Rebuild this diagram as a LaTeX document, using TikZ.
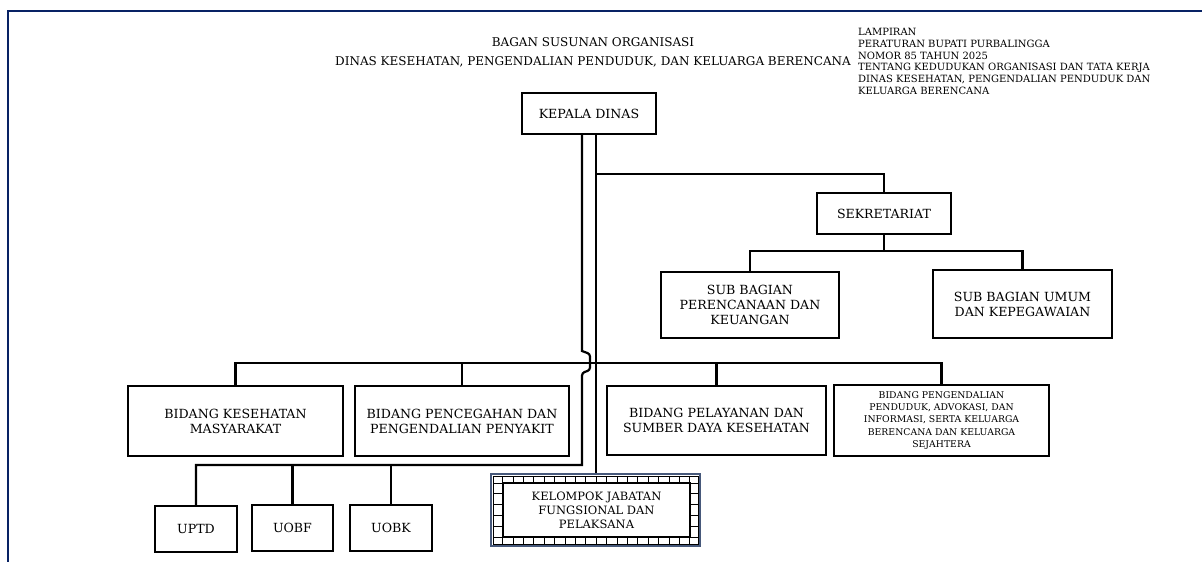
\documentclass[tikz,border=0pt]{standalone}
\usepackage{fontspec}
\setmainfont{DejaVu Serif}
\usepackage{tikz}
\definecolor{framenavy}{RGB}{8,34,100}
\definecolor{gridslate}{RGB}{70,88,122}
\tikzstyle{unit}=[rectangle,draw=black,line width=2.2pt,inner sep=0mm,align=center,font=\fontsize{12.6}{15}\selectfont]
\tikzstyle{smalltext}=[font=\fontsize{9.3}{12.3}\selectfont]
\tikzstyle{link}=[line width=2.2pt]
\tikzstyle{tick}=[line width=1pt]
\tikzset{every picture/.style={
    line join=miter
  }
}

\begin{document}
\begin{tikzpicture}[x=1pt,y=-1pt]
      \useasboundingbox (0,0) rectangle (1202,562);
      \draw[framenavy, line width=2.2pt] (8,562) -- (8,11) -- (1202,11);
      % judul
      \node[align=center, font=\fontsize{12}{19}\selectfont] at (593,52.5) (judul) {BAGAN SUSUNAN ORGANISASI\\DINAS KESEHATAN, PENGENDALIAN PENDUDUK, DAN KELUARGA BERENCANA};
      \node[anchor=north west, align=left, inner sep=0pt, font=\fontsize{10}{11.8}\selectfont] at (858,28) (lampiran) {LAMPIRAN\\PERATURAN BUPATI PURBALINGGA\\NOMOR 85 TAHUN 2025\\TENTANG KEDUDUKAN ORGANISASI DAN TATA KERJA\\DINAS KESEHATAN, PENGENDALIAN PENDUDUK DAN\\KELUARGA BERENCANA};
      % kotak
      \node[unit, minimum width=134pt, minimum height=41pt] at (589,113.5) (kepala) {KEPALA DINAS};
      \node[unit, minimum width=134pt, minimum height=41pt] at (884,213.5) (sekretariat) {SEKRETARIAT};
      \node[unit, minimum width=178pt, minimum height=66pt] at (750,305) (sbpk) {SUB BAGIAN\\PERENCANAAN DAN\\KEUANGAN};
      \node[unit, minimum width=179pt, minimum height=68pt] at (1022.5,304) (sbum) {SUB BAGIAN UMUM\\DAN KEPEGAWAIAN};
      \node[unit, minimum width=215pt, minimum height=70pt] at (235.5,421) (bkm) {BIDANG KESEHATAN\\MASYARAKAT};
      \node[unit, minimum width=214pt, minimum height=70pt] at (462,421) (bpp) {BIDANG PENCEGAHAN DAN\\PENGENDALIAN PENYAKIT};
      \node[unit, minimum width=219pt, minimum height=69pt] at (716.5,420.5) (bpsdk) {BIDANG PELAYANAN DAN\\SUMBER DAYA KESEHATAN};
      \node[unit, smalltext, minimum width=215pt, minimum height=71pt] at (941.5,420.5) (bpa) {BIDANG PENGENDALIAN\\PENDUDUK, ADVOKASI, DAN\\INFORMASI, SERTA KELUARGA\\BERENCANA DAN KELUARGA\\SEJAHTERA};
      \node[unit, minimum width=82pt, minimum height=46pt] at (196,529) (uptd) {UPTD};
      \node[unit, minimum width=81pt, minimum height=46pt] at (292.5,528) (uobf) {UOBF};
      \node[unit, minimum width=82pt, minimum height=46pt] at (391,528) (uobk) {UOBK};
      % kelompok jabatan fungsional
      \node[draw=gridslate, line width=1.3pt, minimum width=209pt, minimum height=72pt] at (595.5,510) (jfframe) {};
      \draw[tick] (493,476) rectangle (698,544);
      \foreach \i in {0,...,18} {
        \draw[tick] ({502.7+\i*10.4},476) -- ++(0,7);
        \draw[tick] ({502.7+\i*10.4},537) -- ++(0,7);
      }
      \foreach \j in {0,...,5} {
        \draw[tick] (493,{483+\j*10.8}) -- ++(10,0);
        \draw[tick] (690,{483+\j*10.8}) -- ++(8,0);
      }
      \node[unit, font=\fontsize{11.5}{14}\selectfont, minimum width=187pt, minimum height=54pt] at (596.5,510) (jf) {KELOMPOK JABATAN\\FUNGSIONAL DAN\\PELAKSANA};
      % garis
      \coordinate (trunkR) at ([xshift=7pt]kepala.south);
      \coordinate (trunkL) at ([xshift=-7pt]kepala.south);
      \draw[link] (trunkR) -- (trunkR |- jfframe.north);
      \draw[link] (trunkR |- 0,174) -| (sekretariat.north);
      \draw[link] (sekretariat.south) -- ++(0,16) -| (sbpk.north);
      \draw[link] (sekretariat.south) -- ++(0,16) -| (sbum.north);
      \draw[link] (bkm.north) -- (bkm.north |- 0,363) -- (bpa.north |- 0,363) -- (bpa.north);
      \draw[link] (bpp.north) -- (bpp.north |- 0,363);
      \draw[link] (bpsdk.north) -- (bpsdk.north |- 0,363);
      \draw[link] (trunkL) -- (trunkL |- 0,351) [rounded corners=2.5pt] -- ++(8,3) -- ++(0,16) -- ++(-8,3) [sharp corners] -- (trunkL |- 0,465) -- (uptd.north |- 0,465) -- (uptd.north);
      \draw[link] (uobf.north) -- (uobf.north |- 0,465);
      \draw[link] (uobk.north) -- (uobk.north |- 0,465);
\end{tikzpicture}
\end{document}
